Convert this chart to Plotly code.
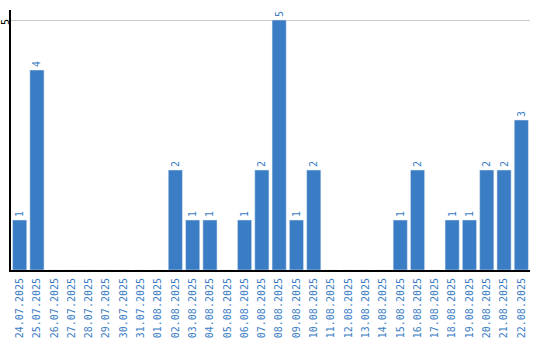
import plotly.graph_objects as go

dates = ["24.07.2025","25.07.2025","26.07.2025","27.07.2025","28.07.2025","29.07.2025",
         "30.07.2025","31.07.2025","01.08.2025","02.08.2025","03.08.2025","04.08.2025",
         "05.08.2025","06.08.2025","07.08.2025","08.08.2025","09.08.2025","10.08.2025",
         "11.08.2025","12.08.2025","13.08.2025","14.08.2025","15.08.2025","16.08.2025",
         "17.08.2025","18.08.2025","19.08.2025","20.08.2025","21.08.2025","22.08.2025"]
counts = [1,4,0,0,0,0,0,0,0,2,1,1,0,1,2,5,1,2,0,0,0,0,1,2,0,1,1,2,2,3]
y_tick = 5

labels = [str(c) if c > 0 else "" for c in counts]
blue = "#3b7dc4"
font = "DejaVu Sans Mono"

fig = go.Figure(go.Bar(
    x=dates, y=counts, text=labels, textposition="outside", textangle=-90,
    textfont=dict(family=font, size=10, color=blue), marker_color=blue,
    cliponaxis=False, constraintext="none", hoverinfo="skip"))

fig.add_annotation(x=0, xref="paper", y=y_tick, yref="y", text=str(y_tick), showarrow=False,
                   textangle=-90, xanchor="center", yanchor="middle", xshift=-6, yshift=-2,
                   font=dict(family=font, size=10, color="black"))

fig.update_layout(
    width=540, height=340, margin=dict(l=11, r=10, t=10, b=70),
    paper_bgcolor="white", plot_bgcolor="white", bargap=0.18, showlegend=False,
    font=dict(family=font, size=10),
    xaxis=dict(type="category", tickangle=-90, tickfont=dict(color=blue, size=10, family=font),
               showline=True, linecolor="black", linewidth=2, showgrid=False, ticks="",
               automargin=False, ticklabelstandoff=2),
    yaxis=dict(range=[0, 5.2], tickvals=[y_tick], showticklabels=False, showgrid=True,
               gridcolor="#cccccc", showline=True, linecolor="black", linewidth=2,
               zeroline=False, automargin=False, ticks=""),
)
fig.write_html("out.html")
